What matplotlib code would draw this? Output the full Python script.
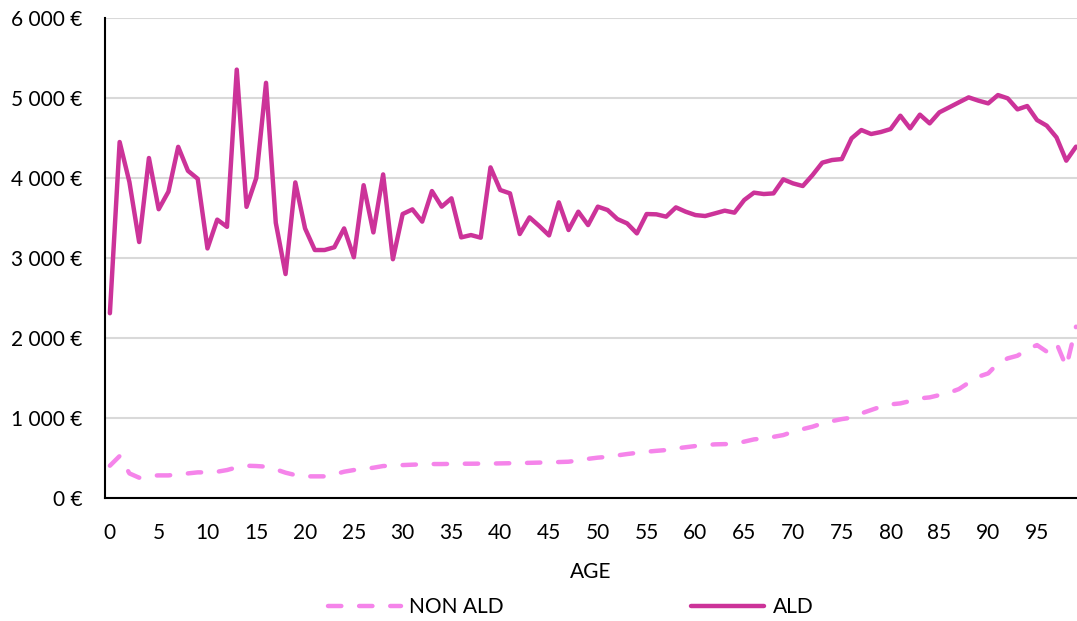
import matplotlib
matplotlib.use('Agg')
import matplotlib.pyplot as plt
from matplotlib.ticker import FuncFormatter, MultipleLocator

plt.rcParams['font.family'] = ['Lato', 'DejaVu Sans']

# ages 0..99
ages = list(range(100))

# average cost per person, patients in long-term condition (ALD)
ald = [2310, 4450, 3950, 3200, 4250, 3610, 3830, 4390, 4090, 3990,
       3120, 3480, 3390, 5355, 3640, 4000, 5190, 3440, 2800, 3945,
       3370, 3100, 3100, 3135, 3370, 3010, 3910, 3320, 4045, 2985,
       3550, 3608, 3455, 3837, 3642, 3746, 3258, 3287, 3254, 4133,
       3850, 3808, 3300, 3508, 3400, 3283, 3696, 3350, 3579, 3412,
       3642, 3600, 3487, 3433, 3308, 3550, 3546, 3517, 3633, 3579,
       3537, 3525, 3558, 3592, 3567, 3725, 3817, 3800, 3808, 3983,
       3933, 3900, 4037, 4192, 4225, 4237, 4496, 4600, 4550, 4575,
       4612, 4779, 4621, 4792, 4683, 4821, 4883, 4946, 5008, 4967,
       4933, 5037, 4996, 4858, 4900, 4725, 4654, 4508, 4217, 4392]

# patients outside long-term condition (NON ALD)
non_ald = [404, 525, 308, 254, 279, 283, 283, 296, 308, 321,
           321, 329, 350, 383, 404, 400, 392, 358, 317, 287,
           271, 271, 271, 296, 329, 350, 362, 379, 400, 404,
           412, 417, 421, 425, 425, 427, 429, 429, 430, 431,
           433, 435, 437, 440, 443, 446, 450, 454, 470, 490,
           505, 515, 533, 550, 565, 579, 590, 600, 620, 635,
           650, 662, 671, 674, 675, 705, 733, 746, 765, 787,
           829, 862, 892, 933, 962, 987, 1004, 1058, 1100, 1142,
           1171, 1183, 1212, 1246, 1258, 1287, 1317, 1362, 1442, 1517,
           1558, 1683, 1746, 1779, 1858, 1912, 1830, 1935, 1640, 2142]

fig = plt.figure(figsize=(10.77, 6.21), dpi=100)
ax = fig.add_axes([0.0975, 0.198, 0.9025, 0.773])

ax.plot(ages, non_ald, color='#F584EA', lw=3.2, linestyle=(0, (3.0, 4.0)),
        dash_capstyle='round', label='NON ALD')
ax.plot(ages, ald, color='#CC3399', lw=3.2, solid_capstyle='round', label='ALD')

ax.set_xlim(-0.5, 99.1)
ax.set_ylim(0, 6000)
ax.xaxis.set_major_locator(MultipleLocator(5))
ax.yaxis.set_major_locator(MultipleLocator(1000))
ax.yaxis.set_major_formatter(
    FuncFormatter(lambda v, p: '{:,.0f} €'.format(v).replace(',', ' ')))

ax.grid(axis='y', color='#D9D9D9', lw=1.5)
ax.set_axisbelow(True)
for s in ['top', 'right']:
    ax.spines[s].set_visible(False)
for s in ['left', 'bottom']:
    ax.spines[s].set_color('black')
    ax.spines[s].set_linewidth(1.5)
ax.tick_params(axis='both', length=0, labelsize=15)
ax.tick_params(axis='y', pad=16)
ax.tick_params(axis='x', pad=18)

ax.set_xlabel('AGE', fontsize=15, labelpad=14)

fig.legend(loc='lower center', bbox_to_anchor=(0.53, -0.024), ncol=2,
           frameon=False, fontsize=15, handlelength=3.5, columnspacing=9.0,
           handletextpad=0.4)

fig.savefig('out.png', dpi=100)
